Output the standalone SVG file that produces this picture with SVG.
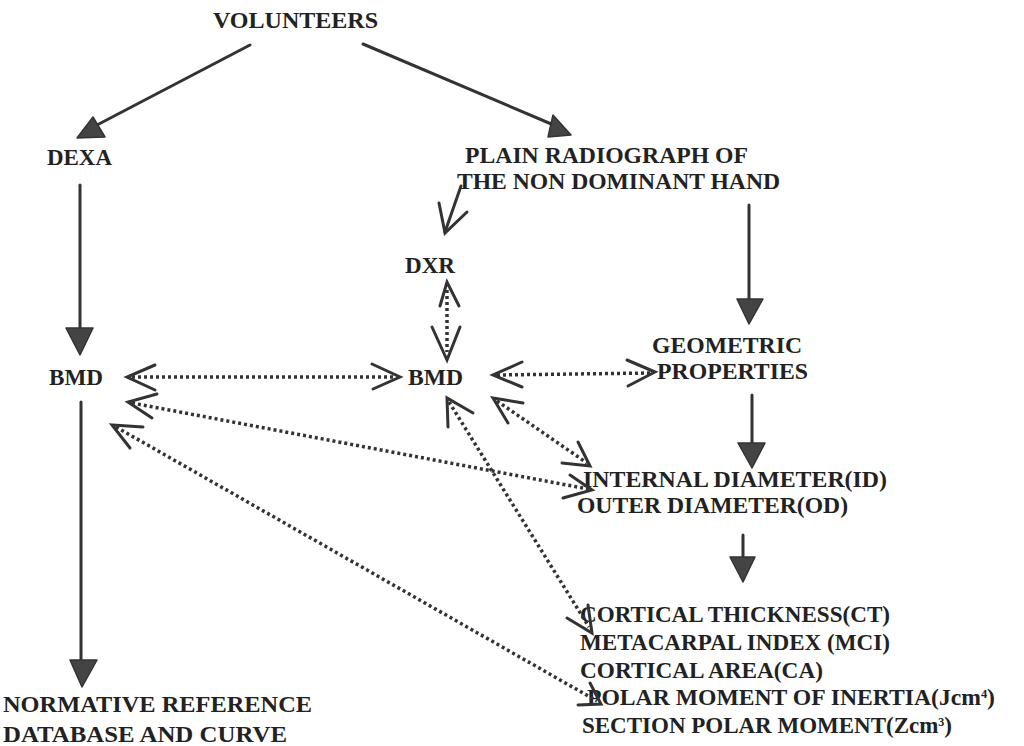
<svg xmlns="http://www.w3.org/2000/svg" width="1024" height="746" viewBox="0 0 1024 746">
<style>
.t{font-family:"Liberation Serif","Times New Roman",serif;font-weight:bold;font-size:24px;fill:#222}
.i{font-size:23px}
.sup{font-size:12px}
.s{stroke:#333;stroke-width:3;fill:none;stroke-linecap:round}
.d{stroke:#333;stroke-width:3.5;fill:none;stroke-dasharray:3 3}
.a{stroke:#333;stroke-width:3;fill:none;stroke-linecap:round;stroke-linejoin:miter}
.h{fill:#444;stroke:#333;stroke-width:1.5;stroke-linejoin:round}
</style>
<rect width="1024" height="746" fill="#fff"/>
<g id="volunteers"><text class="t" x="213" y="28" textLength="165" lengthAdjust="spacingAndGlyphs">VOLUNTEERS</text></g>
<g id="dexa"><text class="t" x="47" y="165" textLength="65" lengthAdjust="spacingAndGlyphs">DEXA</text></g>
<g id="radiograph">
<text class="t" x="465" y="163" textLength="283" lengthAdjust="spacingAndGlyphs">PLAIN RADIOGRAPH OF</text>
<text class="t" x="457" y="189" textLength="323" lengthAdjust="spacingAndGlyphs">THE NON DOMINANT HAND</text>
</g>
<g id="dxr"><text class="t" x="405" y="273" textLength="50" lengthAdjust="spacingAndGlyphs">DXR</text></g>
<g id="bmd-dexa"><text class="t" x="49" y="385" textLength="54" lengthAdjust="spacingAndGlyphs">BMD</text></g>
<g id="bmd-dxr"><text class="t" x="408" y="385" textLength="55" lengthAdjust="spacingAndGlyphs">BMD</text></g>
<g id="geometric">
<text class="t" x="652" y="353" textLength="150" lengthAdjust="spacingAndGlyphs">GEOMETRIC</text>
<text class="t" x="657" y="379" textLength="151" lengthAdjust="spacingAndGlyphs">PROPERTIES</text>
</g>
<g id="diameters">
<text class="t" x="583" y="487" textLength="304" lengthAdjust="spacingAndGlyphs">INTERNAL DIAMETER(ID)</text>
<text class="t" x="577" y="513" textLength="271" lengthAdjust="spacingAndGlyphs">OUTER DIAMETER(OD)</text>
</g>
<g id="indices">
<text class="t i" x="580" y="622" textLength="310" lengthAdjust="spacingAndGlyphs">CORTICAL THICKNESS(CT)</text>
<text class="t i" x="580" y="650" textLength="310" lengthAdjust="spacingAndGlyphs">METACARPAL INDEX (MCI)</text>
<text class="t i" x="580" y="678" textLength="243" lengthAdjust="spacingAndGlyphs">CORTICAL AREA(CA)</text>
<text class="t i" x="587" y="705" textLength="408" lengthAdjust="spacingAndGlyphs">POLAR MOMENT OF INERTIA(Jcm<tspan class="sup" dy="-7">4</tspan><tspan dy="7">)</tspan></text>
<text class="t i" x="582" y="733" textLength="370" lengthAdjust="spacingAndGlyphs">SECTION POLAR MOMENT(Zcm<tspan class="sup" dy="-7">3</tspan><tspan dy="7">)</tspan></text>
</g>
<g id="normative">
<text class="t" x="3" y="712" textLength="309" lengthAdjust="spacingAndGlyphs">NORMATIVE REFERENCE</text>
<text class="t" x="3" y="742" textLength="284" lengthAdjust="spacingAndGlyphs">DATABASE AND CURVE</text>
</g>
<g id="connectors">
<line class="s" x1="250" y1="45" x2="97" y2="125"/>
<polygon class="h" points="77,138 105,137 93,117"/>
<line class="s" x1="363" y1="44" x2="556" y2="126"/>
<polygon class="h" points="548,137 571,135 553,115"/>
<line class="s" x1="461" y1="186" x2="445" y2="232"/>
<polyline class="a" points="439,203 445,233 467,212"/>
<line class="s" x1="749" y1="205" x2="749" y2="305"/>
<polygon class="h" points="737,299 763,299 749,324"/>
<line class="s" x1="80" y1="185" x2="80" y2="335"/>
<polygon class="h" points="66,328 93,328 80,355"/>
<line class="s" x1="81" y1="402" x2="81" y2="665"/>
<polygon class="h" points="70,660 97,660 82,687"/>
<line class="s" x1="752" y1="395" x2="752" y2="450"/>
<polygon class="h" points="738,443 765,443 752,468"/>
<line class="s" x1="743" y1="535" x2="743" y2="562"/>
<polygon class="h" points="730,557 755,557 743,582"/>
<line class="d" x1="447" y1="290" x2="447" y2="352"/>
<polyline class="a" points="440,306 447,282 459,306"/>
<polyline class="a" points="432,327 447,360 460,327"/>
<line class="d" x1="132" y1="377" x2="396" y2="377"/>
<polyline class="a" points="155,365 127,377 155,390"/>
<polyline class="a" points="372,364 400,377 373,389"/>
<line class="d" x1="497" y1="375" x2="651" y2="373"/>
<polyline class="a" points="522,362 493,375 522,387"/>
<polyline class="a" points="627,360 655,372 628,386"/>
<line class="d" x1="132" y1="403" x2="588" y2="489"/>
<polyline class="a" points="157,394 128,402 152,418"/>
<polyline class="a" points="570,475 592,490 563,498"/>
<line class="d" x1="116" y1="427" x2="597" y2="701"/>
<polyline class="a" points="143,427 112,425 130,448"/>
<polyline class="a" points="578,705 601,704 590,683"/>
<line class="d" x1="449" y1="402" x2="589" y2="627"/>
<polyline class="a" points="473,413 447,398 448,427"/>
<polyline class="a" points="567,618 592,633 588,605"/>
<line class="d" x1="497" y1="401" x2="587" y2="463"/>
<polyline class="a" points="523,403 493,398 508,423"/>
<polyline class="a" points="578,442 590,466 562,463"/>
</g>
</svg>
